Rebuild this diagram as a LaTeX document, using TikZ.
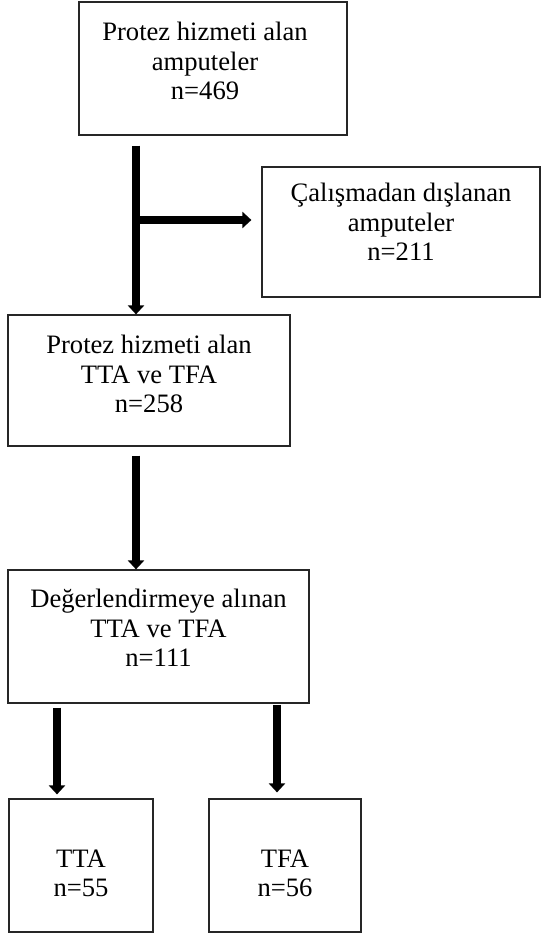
\documentclass[tikz,border=0pt]{standalone}
\usepackage{fontspec}
\setmainfont{Liberation Serif}
\usetikzlibrary{arrows.meta}
\newcommand{\dpt}[1]{\rule[-#1]{0pt}{#1}}
\newcommand{\htt}[1]{\rule{0pt}{#1}}
\newcommand{\lft}{\makebox[8pt]{}}
\begin{document}
\begin{tikzpicture}[x=0.5pt, y=-0.5pt, every node/.style={font=\fontsize{13.3}{14.8}\selectfont}]
  \tikzstyle{b}=[draw=black!85,line width=0.6pt,align=center,inner sep=0pt,minimum height=66.5pt]
  \tikzstyle{arr}=[-{Triangle[width=8pt,length=4.5pt]},line width=4pt]
  \useasboundingbox (0,0) rectangle (541,936);
  \node[b,minimum width=134pt] (p1) at (213,68.5) {Protez hizmeti alan\lft\\amputeler\lft\\n=469\lft\dpt{7.5pt}};
  \node[b,minimum width=139pt,minimum height=65pt] (ex) at (401,232) {Çalışmadan dışlanan\\amputeler\\n=211\dpt{10pt}};
  \node[b,minimum width=141pt,minimum height=65.5pt] (p2) at (149,380.5) {Protez hizmeti alan\\TTA ve TFA\\n=258\dpt{6.5pt}};
  \node[b,minimum width=150.5pt] (p3) at (158.5,636.5) {Değerlendirmeye alınan\\TTA ve TFA\\n=111\dpt{8.5pt}};
  \node[b,minimum width=72pt] (tta) at (81,865.5) {\htt{16.5pt}TTA\\n=55};
  \node[b,minimum width=76pt] (tfa) at (285,865.5) {\htt{16.5pt}TFA\\n=56};
  \coordinate (br) at (136,220);
  \coordinate (l) at (57,0);
  \coordinate (r) at (277,0);
  \draw[arr,shorten <=5pt] (p1.south -| br) -- (p2.north -| br);
  \draw[arr,shorten >=5pt] (br) -- (br -| ex.west);
  \draw[arr,shorten <=4.5pt] (p2.south -| br) -- (p3.north -| br);
  \draw[arr,shorten <=2pt,shorten >=2pt] (p3.south -| l) -- (tta.north -| l);
  \draw[arr,shorten <=0.5pt,shorten >=3pt] (p3.south -| r) -- (tfa.north -| r);
\end{tikzpicture}
\end{document}
